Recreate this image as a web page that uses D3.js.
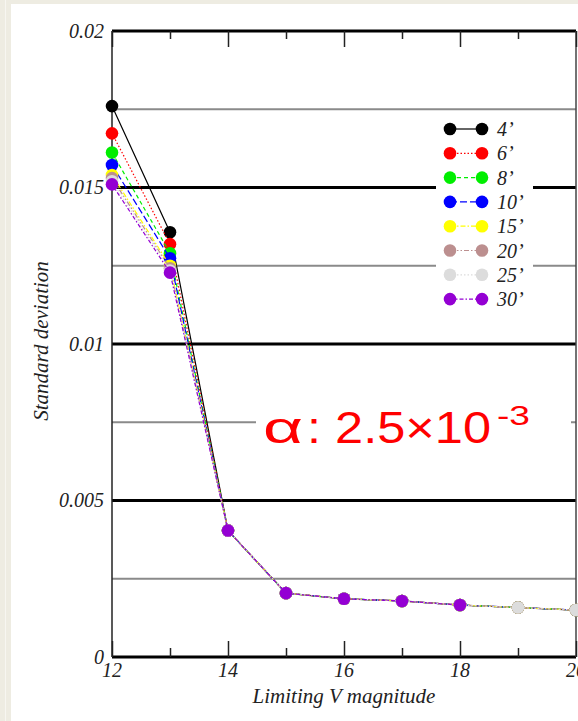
<!DOCTYPE html>
<html>
<head>
<meta charset="utf-8">
<script src="https://cdn.jsdelivr.net/npm/d3@7"></script>
<style>
  html, body { margin: 0; padding: 0; background: #eeece2; }
  svg { display: block; }
</style>
</head>
<body>
<div id="chart"></div>
<script>
// magnitudes on the x axis
var mags = [12, 13, 14, 15, 16, 17, 18, 19, 20];

// standard deviation for each aperture
var names = ["4\u2019", "6\u2019", "8\u2019", "10\u2019", "15\u2019", "20\u2019", "25\u2019", "30\u2019"];
var sd4  = [0.01760, 0.01357, 0.00404, 0.00204, 0.00186, 0.00179, 0.00166, 0.00158, 0.00150];
var sd6  = [0.01673, 0.01319, 0.00404, 0.00204, 0.00186, 0.00179, 0.00166, 0.00158, 0.00150];
var sd8  = [0.01612, 0.01290, 0.00404, 0.00204, 0.00186, 0.00179, 0.00166, 0.00158, 0.00150];
var sd10 = [0.01572, 0.01274, 0.00404, 0.00204, 0.00186, 0.00179, 0.00166, 0.00158, 0.00150];
var sd15 = [0.01540, 0.01250, 0.00404, 0.00204, 0.00186, 0.00179, 0.00166, 0.00158, 0.00150];
var sd20 = [0.01530, 0.01242, 0.00404, 0.00204, 0.00186, 0.00179, 0.00166, 0.00158, 0.00150];
var sd25 = [0.01520, 0.01235, 0.00404, 0.00204, 0.00186, 0.00179, 0.00166, 0.00158, 0.00150];
var sd30 = [0.01510, 0.01228, 0.00404, 0.00204, 0.00186, 0.00179, 0.00166, null, null];

var yMajor = [0, 0.005, 0.01, 0.015, 0.02];
var yMajorLabels = ["0", "0.005", "0.01", "0.015", "0.02"];
var yMinor = [0.0025, 0.0075, 0.0125, 0.0175];
var xMajor = [12, 14, 16, 18, 20];
var xMinor = [13, 15, 17, 19];

var colors = ["#000000", "#ff0000", "#00ee00", "#0000ff", "#ffff00", "#bc8f8f", "#dcdcdc", "#9400d3"];
var dashes = [null, "1.5,2", "4,3", "7,3", "5,2,1.5,2", "5,2,1.5,2,1.5,2", "1.5,2", "4,2,1.5,2"];

var series = names.map(function(n, i) {
  return { name: n, color: colors[i], dash: dashes[i],
           values: [sd4, sd6, sd8, sd10, sd15, sd20, sd25, sd30][i] };
});

var W = 578, H = 721;
var svg = d3.select("#chart").append("svg")
    .attr("width", W).attr("height", H);

// white panel inside the beige frame
svg.append("rect").attr("x", 11).attr("y", 4).attr("width", W - 11).attr("height", H - 4)
    .attr("fill", "#ffffff");
svg.append("line").attr("x1", 5.5).attr("x2", 5.5).attr("y1", 0).attr("y2", H)
    .attr("stroke", "#f7f6f1").attr("stroke-width", 1);

var x = d3.scaleLinear().domain([12, 20]).range([112, 576]);
var y = d3.scaleLinear().domain([0, 0.02]).range([657, 31]);

var serif = "'Liberation Serif', 'Times New Roman', serif";

// grid lines
svg.append("g").selectAll("line").data(yMinor).join("line")
    .attr("x1", x(12)).attr("x2", x(20))
    .attr("y1", function(d) { return y(d); }).attr("y2", function(d) { return y(d); })
    .attr("stroke", "#8a8a8a").attr("stroke-width", 2);
svg.append("g").selectAll("line").data(yMajor).join("line")
    .attr("x1", x(12)).attr("x2", x(20))
    .attr("y1", function(d) { return y(d); }).attr("y2", function(d) { return y(d); })
    .attr("stroke", "#000").attr("stroke-width", 3);

// left and right frame
svg.append("line").attr("x1", x(12)).attr("x2", x(12)).attr("y1", y(0.02)).attr("y2", y(0))
    .attr("stroke", "#222").attr("stroke-width", 1.5);
svg.append("line").attr("x1", x(20)).attr("x2", x(20)).attr("y1", y(0.02)).attr("y2", y(0))
    .attr("stroke", "#444").attr("stroke-width", 1.5);

// bottom ticks (pointing up)
var bottomAxis = svg.append("g").attr("transform", "translate(0," + y(0) + ")");
bottomAxis.call(d3.axisTop(x).tickValues(xMajor).tickSize(16).tickFormat(""));
bottomAxis.append("g").call(d3.axisTop(x).tickValues(xMinor).tickSize(9).tickFormat(""));
bottomAxis.selectAll(".domain").remove();
bottomAxis.selectAll("line").attr("stroke", "#222").attr("stroke-width", 1.5);

// top ticks (pointing down)
var topAxis = svg.append("g").attr("transform", "translate(0," + y(0.02) + ")");
topAxis.call(d3.axisBottom(x).tickValues(xMajor).tickSize(16).tickFormat(""));
topAxis.append("g").call(d3.axisBottom(x).tickValues(xMinor).tickSize(8).tickFormat(""));
topAxis.selectAll(".domain").remove();
topAxis.selectAll("line").attr("stroke", "#222").attr("stroke-width", 1.5);

// tick labels
svg.append("g").selectAll("text").data(yMajor).join("text")
    .attr("x", 104).attr("y", function(d) { return y(d); }).attr("dy", "0.33em")
    .attr("text-anchor", "end")
    .style("font-family", serif).style("font-style", "italic").style("font-size", "20px")
    .attr("fill", "#222")
    .text(function(d, i) { return yMajorLabels[i]; });
svg.append("g").selectAll("text").data(xMajor).join("text")
    .attr("x", function(d) { return x(d); }).attr("y", 677)
    .attr("text-anchor", "middle")
    .style("font-family", serif).style("font-style", "italic").style("font-size", "20px")
    .attr("fill", "#222")
    .text(function(d) { return d; });

// axis titles
svg.append("text").attr("x", 344).attr("y", 703).attr("text-anchor", "middle")
    .style("font-family", serif).style("font-style", "italic").style("font-size", "21px")
    .attr("fill", "#222").text("Limiting V magnitude");
svg.append("text").attr("transform", "translate(48,341) rotate(-90)").attr("text-anchor", "middle")
    .style("font-family", serif).style("font-style", "italic").style("font-size", "21px")
    .attr("fill", "#222").text("Standard deviation");

// annotation with white backing
svg.append("rect").attr("x", 256).attr("y", 398).attr("width", 315).attr("height", 50)
    .attr("fill", "#fff");
var note = svg.append("text").attr("y", 443)
    .style("font-family", "'Liberation Sans', Arial, sans-serif").style("font-size", "45px")
    .attr("fill", "#ff0000");
note.append("tspan").attr("x", 263).attr("textLength", 40).attr("lengthAdjust", "spacingAndGlyphs")
    .text("\u03b1");
note.append("tspan").attr("x", 307).attr("textLength", 184).attr("lengthAdjust", "spacingAndGlyphs")
    .text(": 2.5\u00d710");
note.append("tspan").attr("x", 497).attr("dy", -18).style("font-size", "28px")
    .attr("textLength", 33).attr("lengthAdjust", "spacingAndGlyphs").text("-3");

// data lines and points
var line = d3.line()
    .defined(function(d) { return d.v != null; })
    .x(function(d) { return x(d.m); })
    .y(function(d) { return y(d.v); });

series.forEach(function(s) {
  var pts = mags.map(function(m, i) { return { m: m, v: s.values[i] }; });
  var g = svg.append("g");
  g.append("path").datum(pts)
      .attr("fill", "none").attr("stroke", s.color).attr("stroke-width", 1.2)
      .attr("stroke-dasharray", s.dash)
      .attr("d", line);
  g.selectAll("circle").data(pts.filter(function(d) { return d.v != null; })).join("circle")
      .attr("cx", function(d) { return x(d.m); })
      .attr("cy", function(d) { return y(d.v); })
      .attr("r", 6.3)
      .attr("fill", s.color);
});

// legend
var leg = svg.append("g");
leg.append("rect").attr("x", 436).attr("y", 114).attr("width", 97).attr("height", 200)
    .attr("fill", "#fff");
series.forEach(function(s, i) {
  var ly = 129 + i * 24.3;
  leg.append("line").attr("x1", 450).attr("x2", 482).attr("y1", ly).attr("y2", ly)
      .attr("stroke", s.color).attr("stroke-width", 1.2).attr("stroke-dasharray", s.dash);
  leg.append("circle").attr("cx", 450).attr("cy", ly).attr("r", 6.3).attr("fill", s.color);
  leg.append("circle").attr("cx", 482).attr("cy", ly).attr("r", 6.3).attr("fill", s.color);
  leg.append("text").attr("x", 497).attr("y", ly).attr("dy", "0.35em")
      .style("font-family", serif).style("font-style", "italic").style("font-size", "20px")
      .attr("fill", "#222").text(s.name);
});
</script>
</body>
</html>
